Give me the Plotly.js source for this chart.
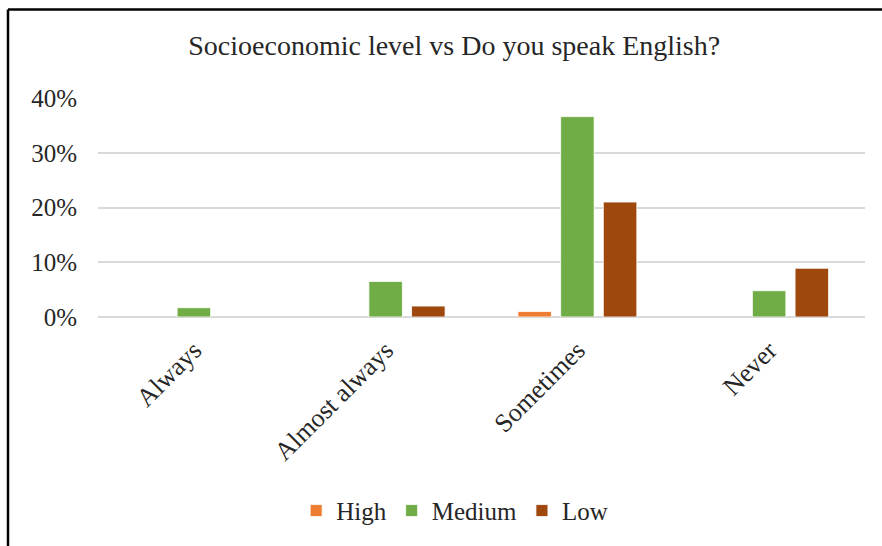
<!DOCTYPE html>
<html>
<head>
<meta charset="utf-8">
<script src="https://cdn.plot.ly/plotly-3.0.1.min.js"></script>
<style>html,body{margin:0;padding:0;background:#fff;}#chart{width:882px;height:546px;}</style>
</head>
<body>
<div id="chart"></div>
<script>
const categories = ["Always", "Almost always", "Sometimes", "Never"];
const highValues = [null, null, 1.0, null];
const mediumValues = [1.7, 6.5, 36.6, 4.8];
const lowValues = [null, 2.0, 21.0, 8.9];
const seriesNames = ["High", "Medium", "Low"];
const seriesColors = ["#ED7D31", "#70AD47", "#9E480E"];
const yTicks = [0, 10, 20, 30, 40];
const yTickLabels = ["0%", "10%", "20%", "30%", "40%"];

const FONT = "Liberation Serif, Times New Roman, serif";
const series = [highValues, mediumValues, lowValues];
const traces = series.map((vals, i) => ({
  type: "bar",
  name: seriesNames[i],
  x: categories,
  y: vals,
  marker: { color: seriesColors[i], line: { color: "rgba(255,255,255,0.8)", width: 1 } },
  hoverinfo: "none"
}));

const layout = {
  width: 882,
  height: 546,
  paper_bgcolor: "#ffffff",
  plot_bgcolor: "#ffffff",
  margin: { l: 98, r: 17, t: 98, b: 229 },
  font: { family: FONT, color: "#262626", size: 24 },
  title: {
    text: "Socioeconomic level vs Do you speak English?",
    font: { family: FONT, size: 28, color: "#262626" },
    x: 0.515, xref: "container", xanchor: "center",
    y: 0.918, yref: "container", yanchor: "middle"
  },
  barmode: "group",
  bargap: 0.332,
  bargroupgap: 0.215,
  xaxis: {
    type: "category",
    tickangle: -45,
    tickfont: { family: FONT, size: 26, color: "#262626" },
    ticklabelstandoff: 12,
    showgrid: false,
    showline: false,
    ticks: "",
    zeroline: false,
    automargin: false
  },
  yaxis: {
    range: [0, 40],
    tickvals: yTicks,
    ticktext: yTickLabels,
    tickfont: { family: FONT, size: 25, color: "#262626" },
    ticklabelstandoff: 20,
    showgrid: true,
    gridcolor: "#d9d9d9",
    gridwidth: 2,
    zeroline: true,
    zerolinecolor: "#d9d9d9",
    zerolinewidth: 2,
    showline: false,
    ticks: "",
    ticklen: 0,
    automargin: false
  },
  showlegend: true,
  legend: {
    orientation: "h",
    x: 0.465, xanchor: "center",
    y: -0.885, yanchor: "middle",
    font: { family: FONT, size: 25, color: "#262626" },
    traceorder: "normal",
    itemwidth: 30
  },
  shapes: [
    { type: "line", xref: "paper", yref: "paper", x0: (8 - 98) / 767, x1: (882 - 98) / 767, y0: (316.7 - 10) / 218.4, y1: (316.7 - 10) / 218.4, line: { color: "#000", width: 2.5 } },
    { type: "line", xref: "paper", yref: "paper", x0: (8 - 98) / 767, x1: (8 - 98) / 767, y0: (316.7 - 10) / 218.4, y1: (316.7 - 560) / 218.4, line: { color: "#000", width: 2.5 } }
  ]
};

Plotly.newPlot("chart", traces, layout, { staticPlot: true, displayModeBar: false });
</script>
</body>
</html>
